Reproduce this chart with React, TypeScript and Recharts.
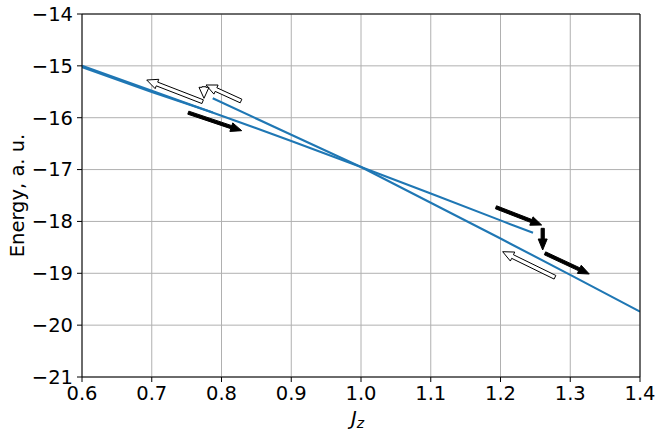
import React from 'react';
import { LineChart, Line, XAxis, YAxis, CartesianGrid, ReferenceLine } from 'recharts';

const jzTicks = [0.6, 0.7, 0.8, 0.9, 1.0, 1.1, 1.2, 1.3, 1.4];
const energyTicks = [-21, -20, -19, -18, -17, -16, -15, -14];

// branch starting at Jz = 0.6 (forward sweep until the jump)
const branchAJz = [0.6, 0.7, 0.8, 0.9, 1.0, 1.1, 1.2, 1.2466];
const branchAEnergy = [-15.0, -15.48, -15.96, -16.45, -16.95, -17.46, -17.98, -18.22];

// branch ending at Jz = 1.4
const branchBJz = [0.7874, 0.9, 1.0, 1.1, 1.2, 1.3, 1.4];
const branchBEnergy = [-15.626, -16.33, -16.95, -17.64, -18.33, -19.03, -19.74];

// backward sweep after the jump, back to Jz = 0.6
const returnJz = [0.6, 0.7, 0.7874];
const returnEnergy = [-15.025, -15.505, -15.9];

// arrows: [Jz tail, E tail, Jz tip, E tip]
const forwardArrows = [
  [0.7524, -15.903, 0.829, -16.25],
  [1.1935, -17.727, 1.259, -18.069],
  [1.2605, -18.133, 1.2605, -18.551],
  [1.2638, -18.615, 1.3273, -19.014],
];
const backwardArrows = [
  [1.2781, -19.077, 1.2031, -18.584],
  [0.828, -15.678, 0.7778, -15.369],
  [0.7749, -15.402, 0.7749, -15.626],
  [0.773, -15.691, 0.6928, -15.273],
];

const font = 'DejaVu Sans, sans-serif';
const blue = '#1f77b4';
const fs = 19.5;

const toPoints = (xs: number[], ys: number[]) => xs.map((x, i) => ({ x, y: ys[i] }));

const fmtY = (v: number) => (v < 0 ? '\u2212' + Math.abs(v) : String(v));

const arrowShape = (fill: string, shaft: number, headW: number, headL: number) => (p: any) => {
  const { x1, y1, x2, y2 } = p;
  const dx = x2 - x1;
  const dy = y2 - y1;
  const len = Math.hypot(dx, dy) || 1;
  const ux = dx / len;
  const uy = dy / len;
  const nx = -uy;
  const ny = ux;
  const bx = x2 - ux * headL;
  const by = y2 - uy * headL;
  const pts = [
    [x1 + (nx * shaft) / 2, y1 + (ny * shaft) / 2],
    [bx + (nx * shaft) / 2, by + (ny * shaft) / 2],
    [bx + (nx * headW) / 2, by + (ny * headW) / 2],
    [x2, y2],
    [bx - (nx * headW) / 2, by - (ny * headW) / 2],
    [bx - (nx * shaft) / 2, by - (ny * shaft) / 2],
    [x1 - (nx * shaft) / 2, y1 - (ny * shaft) / 2],
  ];
  return (
    <polygon
      points={pts.map(q => q.join(',')).join(' ')}
      fill={fill}
      stroke="#000"
      strokeWidth={1}
      strokeLinejoin="miter"
    />
  );
};

const XLabel = (props: any) => {
  const vb = props.viewBox || { x: 82, y: 377, width: 558 };
  const cx = vb.x + vb.width / 2;
  return (
    <text x={cx - 10} y={425} fontFamily={font} fontSize={fs} fontStyle="italic" fill="#000">
      J
      <tspan fontSize={14} dy={3}>z</tspan>
    </text>
  );
};

const YLabel = () => (
  <text
    x={24}
    y={195.5}
    transform="rotate(-90 24 195.5)"
    textAnchor="middle"
    fontFamily={font}
    fontSize={fs}
    fill="#000"
  >
    Energy, a. u.
  </text>
);

export default function App() {
  return (
    <div style={{ position: 'absolute', left: 0, top: 0, background: '#fff' }}>
      <LineChart width={664} height={437} margin={{ top: 14, right: 24, bottom: 0, left: 0 }}>
        <CartesianGrid stroke="#b0b0b0" strokeWidth={1} />
        <XAxis
          type="number"
          dataKey="x"
          domain={[0.6, 1.4]}
          ticks={jzTicks}
          interval={0}
          allowDataOverflow
          height={60}
          tickFormatter={(v: number) => v.toFixed(1)}
          tick={{ fill: '#000', fontSize: fs, fontFamily: font }}
          tickSize={5}
          tickMargin={4}
          stroke="#000"
          label={<XLabel />}
        />
        <YAxis
          type="number"
          domain={[-21, -14]}
          ticks={energyTicks}
          interval={0}
          allowDataOverflow
          width={82}
          tickFormatter={fmtY}
          tick={{ fill: '#000', fontSize: fs, fontFamily: font }}
          tickSize={5}
          tickMargin={4}
          stroke="#000"
          label={<YLabel />}
        />
        <Line
          data={toPoints(branchAJz, branchAEnergy)}
          dataKey="y"
          stroke={blue}
          strokeWidth={2.1}
          dot={false}
          isAnimationActive={false}
        />
        <Line
          data={toPoints(branchBJz, branchBEnergy)}
          dataKey="y"
          stroke={blue}
          strokeWidth={2.1}
          dot={false}
          isAnimationActive={false}
        />
        <Line
          data={toPoints(returnJz, returnEnergy)}
          dataKey="y"
          stroke={blue}
          strokeWidth={2.1}
          dot={false}
          isAnimationActive={false}
        />
        <ReferenceLine y={-14} stroke="#000" strokeWidth={1} />
        <ReferenceLine x={1.4} stroke="#000" strokeWidth={1} />
        {forwardArrows.map((a, i) => (
          <ReferenceLine
            key={'f' + i}
            segment={[{ x: a[0], y: a[1] }, { x: a[2], y: a[3] }]}
            shape={arrowShape('#000', 3.2, 9, 11)}
          />
        ))}
        {backwardArrows.map((a, i) => (
          <ReferenceLine
            key={'b' + i}
            segment={[{ x: a[0], y: a[1] }, { x: a[2], y: a[3] }]}
            shape={arrowShape('#fff', 4, 10, 11)}
          />
        ))}
      </LineChart>
    </div>
  );
}
